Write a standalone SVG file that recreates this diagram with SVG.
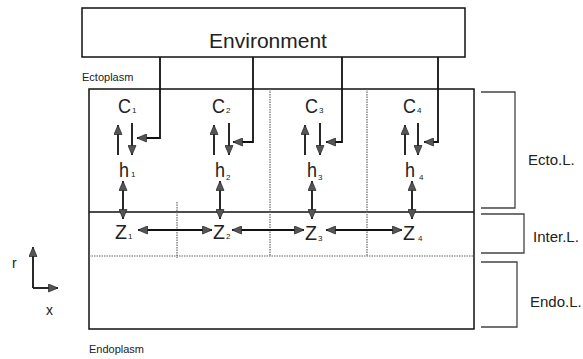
<svg xmlns="http://www.w3.org/2000/svg" width="583" height="359" viewBox="0 0 583 359">
<style>
text{font-family:"Liberation Sans",Arial,sans-serif;fill:#222}
.big{font-size:21px}
.sub{font-size:8px}
.small{font-size:11px}
.lab{font-size:15px}
.box{fill:none;stroke:#111;stroke-width:1.5}
.solid{stroke:#111;stroke-width:1.6;fill:none}
.dot{stroke:#666;stroke-width:1.2;stroke-dasharray:1.5 1;fill:none}
.brk{fill:none;stroke:#444;stroke-width:1.3}
.ar{stroke:#111;stroke-width:1.8;fill:none;marker-end:url(#ah)}
.dar{stroke:#111;stroke-width:1.8;fill:none;marker-end:url(#ah);marker-start:url(#ah)}
</style>
<defs>
<marker id="ah" markerUnits="userSpaceOnUse" markerWidth="11" markerHeight="9" refX="10" refY="4.5" orient="auto-start-reverse">
<path d="M0.5,0.5 L10,4.5 L0.5,8.5 z" fill="#555" stroke="#222" stroke-width="0.7"/>
</marker>
</defs>
<rect width="583" height="359" fill="#fff"/>

<g id="environment">
<rect class="box" x="82" y="8" width="383" height="49"/>
<text x="268" y="48" font-size="21" text-anchor="middle">Environment</text>
</g>

<g id="cell">
<text class="small" x="82" y="81">Ectoplasm</text>
<rect class="box" x="89" y="89" width="385" height="240"/>
<line class="solid" x1="89" y1="212" x2="474" y2="212"/>
<line class="dot" x1="89" y1="256" x2="474" y2="256"/>
<line class="dot" x1="177" y1="202" x2="177" y2="258"/>
<line class="dot" x1="270" y1="89" x2="270" y2="256"/>
<line class="dot" x1="367" y1="89" x2="367" y2="256"/>
<text class="small" x="89" y="353">Endoplasm</text>
</g>

<g id="C1"><text class="big" x="118" y="113" textLength="13" lengthAdjust="spacingAndGlyphs">C</text><text class="sub" x="132" y="113">1</text></g>
<g id="C2"><text class="big" x="212" y="113" textLength="13" lengthAdjust="spacingAndGlyphs">C</text><text class="sub" x="226" y="113">2</text></g>
<g id="C3"><text class="big" x="305" y="113" textLength="13" lengthAdjust="spacingAndGlyphs">C</text><text class="sub" x="319" y="113">3</text></g>
<g id="C4"><text class="big" x="403" y="113" textLength="13" lengthAdjust="spacingAndGlyphs">C</text><text class="sub" x="417" y="113">4</text></g>

<g id="h1"><text class="big" x="119" y="177" textLength="10" lengthAdjust="spacingAndGlyphs">h</text><text class="sub" x="131" y="177">1</text></g>
<g id="h2"><text class="big" x="215" y="177" textLength="10" lengthAdjust="spacingAndGlyphs">h</text><text class="sub" x="226" y="180">2</text></g>
<g id="h3"><text class="big" x="307" y="177" textLength="10" lengthAdjust="spacingAndGlyphs">h</text><text class="sub" x="318" y="180">3</text></g>
<g id="h4"><text class="big" x="405" y="177" textLength="10" lengthAdjust="spacingAndGlyphs">h</text><text class="sub" x="419" y="180">4</text></g>

<g id="Z1"><text class="big" x="115" y="239" textLength="12" lengthAdjust="spacingAndGlyphs">Z</text><text class="sub" x="128" y="239">1</text></g>
<g id="Z2"><text class="big" x="213" y="239" textLength="12" lengthAdjust="spacingAndGlyphs">Z</text><text class="sub" x="226" y="239">2</text></g>
<g id="Z3"><text class="big" x="305" y="240" textLength="12" lengthAdjust="spacingAndGlyphs">Z</text><text class="sub" x="318" y="241">3</text></g>
<g id="Z4"><text class="big" x="403" y="240" textLength="12" lengthAdjust="spacingAndGlyphs">Z</text><text class="sub" x="418" y="241">4</text></g>

<g id="layers">
<path class="brk" d="M481,92 H515 V208 H481"/>
<text class="lab" x="528" y="165">Ecto.L.</text>
<path class="brk" d="M481,214 H524 V253 H481"/>
<text class="lab" x="533" y="242">Inter.L.</text>
<path class="brk" d="M481,262 H517 V327 H481"/>
<text class="lab" x="530" y="307">Endo.L.</text>
</g>

<g id="axes">
<path class="ar" d="M33,288 V247"/>
<path class="ar" d="M33,288 H58"/>
<text x="12" y="268" font-size="14">r</text>
<text x="46" y="315" font-size="14">x</text>
</g>

<g id="connectors">
<path class="ar" d="M160,57 V138 H137"/>
<path class="ar" d="M253,57 V142 H233"/>
<path class="ar" d="M342,57 V142 H326"/>
<path class="ar" d="M438,57 V142 H424"/>

<path class="ar" d="M118,155 V125"/>
<path class="ar" d="M132,123 V155"/>
<path class="ar" d="M214,155 V125"/>
<path class="ar" d="M229,123 V155"/>
<path class="ar" d="M305,155 V125"/>
<path class="ar" d="M320,123 V155"/>
<path class="ar" d="M405,155 V125"/>
<path class="ar" d="M418,123 V155"/>

<path class="dar" d="M123,181 V219"/>
<path class="dar" d="M220,181 V219"/>
<path class="dar" d="M312,181 V219"/>
<path class="dar" d="M412,181 V219"/>

<path class="dar" d="M138,230 H212"/>
<path class="dar" d="M232,230 H304"/>
<path class="dar" d="M326,230 H402"/>
</g>
</svg>
